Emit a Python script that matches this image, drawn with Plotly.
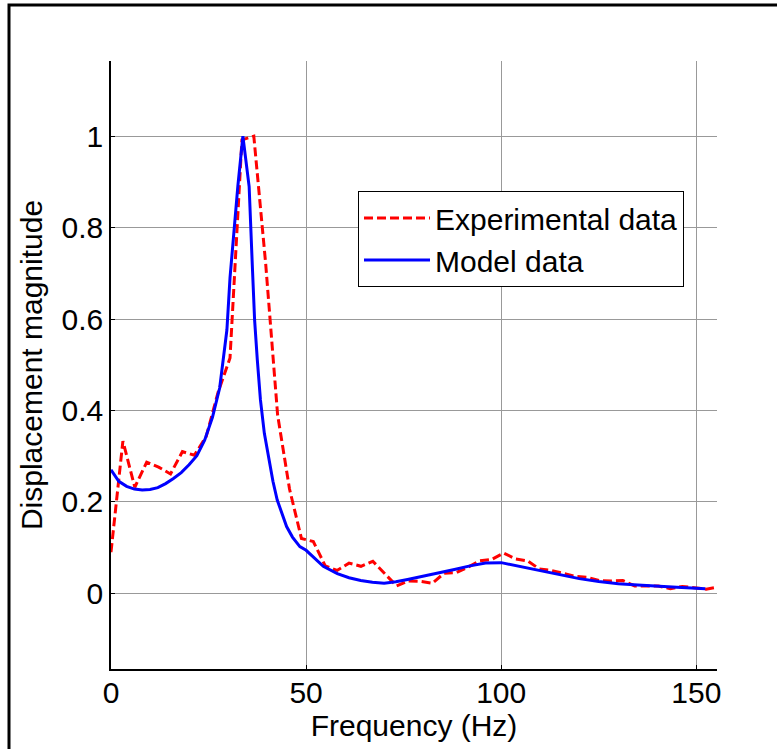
import plotly.graph_objects as go

# ---------------- data ----------------
exp_freq = [0, 3.05, 6.1, 9.15, 12.2, 15.25, 18.3, 21.35, 24.4, 27.45, 30.5, 33.55,
            36.6, 39.65, 42.7, 45.75, 48.8, 51.85, 54.9, 57.95, 61.0, 64.05, 67.1,
            70.15, 73.2, 76.25, 79.3, 82.35, 85.4, 88.45, 91.5, 94.55, 97.6, 100.65,
            103.7, 106.75, 109.8, 112.85, 115.9, 118.95, 122.0, 125.05, 128.1, 131.15,
            134.2, 137.25, 140.3, 143.35, 146.4, 149.45, 152.5, 155.55]
exp_mag = [0.09, 0.333, 0.232, 0.287, 0.276, 0.261, 0.31, 0.302, 0.343, 0.44, 0.515, 0.992,
           1.0, 0.72, 0.39, 0.228, 0.12, 0.113, 0.06, 0.05, 0.066, 0.059, 0.07,
           0.042, 0.016, 0.027, 0.026, 0.022, 0.044, 0.045, 0.057, 0.071, 0.074, 0.088,
           0.075, 0.071, 0.053, 0.05, 0.043, 0.037, 0.035, 0.028, 0.027, 0.028,
           0.016, 0.016, 0.016, 0.01, 0.015, 0.012, 0.009, 0.0135]

model_freq = [0, 2, 4, 6, 8, 10, 12, 14, 16, 18, 20, 22, 24, 26, 27.85, 29, 29.7, 30.5,
              31.5, 32.5, 33.8, 34.6, 35.4, 36.2, 36.8, 37.5, 38.3, 39.3, 40.5, 41.5,
              42.6, 44, 45, 46.5, 48.4, 50, 52, 54.4, 58, 61, 64, 67, 70, 73, 76, 80,
              84, 88, 92, 96, 100, 104, 108, 112, 116, 120, 125, 130, 135, 140, 145,
              150, 152.3]
model_mag = [0.27, 0.245, 0.234, 0.228, 0.226, 0.227, 0.231, 0.240, 0.251, 0.264, 0.281,
             0.301, 0.335, 0.385, 0.449, 0.53, 0.576, 0.69, 0.80, 0.89, 1.0, 0.95, 0.89,
             0.72, 0.598, 0.51, 0.423, 0.35, 0.292, 0.245, 0.204, 0.168, 0.146, 0.123,
             0.102, 0.094, 0.078, 0.059, 0.043, 0.034, 0.028, 0.024, 0.022, 0.025, 0.03,
             0.037, 0.044, 0.052, 0.06, 0.066, 0.067, 0.06, 0.052, 0.045, 0.038, 0.032,
             0.026, 0.021, 0.018, 0.015, 0.013, 0.011, 0.01]

x_ticks = [0, 50, 100, 150]
x_ticktext = ["0", "50", "100", "150"]
y_ticks = [0, 0.2, 0.4, 0.6, 0.8, 1.0]
y_ticktext = ["0", "0.2", "0.4", "0.6", "0.8", "1"]

# ---------------- layout geometry ----------------
W, H = 777, 749
L, R, T, B = 111, 60, 61, 80
PW, PH = W - L - R, H - T - B


def px_x(p):
    return (p - L) / PW


def px_y(p):
    return (H - B - p) / PH


FONT = "Liberation Sans, Arial, sans-serif"
FS = 30

fig = go.Figure()
fig.add_trace(go.Scatter(x=exp_freq, y=exp_mag, mode="lines", name="Experimental data",
                         line=dict(color="#ff0000", width=3, dash="9px,4px")))
fig.add_trace(go.Scatter(x=model_freq, y=model_mag, mode="lines", name="Model data",
                         line=dict(color="#0000ff", width=3)))

axis_common = dict(ticks="inside", ticklen=4, tickcolor="black", showgrid=True,
                   gridcolor="#999999", gridwidth=1, zeroline=False, showline=True,
                   linecolor="black", linewidth=1.5,
                   tickfont=dict(family=FONT, size=FS, color="black"))

fig.update_layout(
    width=W, height=H,
    margin=dict(l=L, r=R, t=T, b=B),
    paper_bgcolor="white", plot_bgcolor="white",
    font=dict(family=FONT, size=FS, color="black"),
    xaxis=dict(range=[0, 155.3], tickvals=x_ticks, ticktext=x_ticktext,
               ticklabelstandoff=-4,
               title=dict(text="Frequency (Hz)", font=dict(family=FONT, size=FS), standoff=0),
               **axis_common),
    yaxis=dict(range=[-0.1657, 1.1646], tickvals=y_ticks, ticktext=y_ticktext,
               title=dict(text="Displacement magnitude", font=dict(family=FONT, size=FS), standoff=10),
               **axis_common),
    xaxis2=dict(overlaying="x", side="top", range=[0, 155.3], tickvals=x_ticks,
                ticks="inside", ticklen=4, tickcolor="black", showticklabels=False,
                showgrid=False, zeroline=False, showline=False),
    yaxis2=dict(overlaying="y", side="right", range=[-0.1657, 1.1646], tickvals=y_ticks,
                ticks="inside", ticklen=4, tickcolor="black", showticklabels=False,
                showgrid=False, zeroline=False, showline=False),
    legend=dict(x=px_x(358), y=px_y(191), xanchor="left", yanchor="top",
                bgcolor="white", bordercolor="black", borderwidth=1,
                font=dict(family=FONT, size=FS, color="black"),
                itemwidth=66, tracegroupgap=0),
    showlegend=True,
    shapes=[dict(type="rect", xref="paper", yref="paper",
                 x0=px_x(9), x1=px_x(W + 20), y0=px_y(H + 20), y1=px_y(5),
                 line=dict(color="black", width=3), fillcolor="rgba(0,0,0,0)", layer="above")],
)

fig.write_html("out.html", config={"displayModeBar": False},
               post_script="document.body.style.margin='0px';document.body.style.overflow='hidden';")
